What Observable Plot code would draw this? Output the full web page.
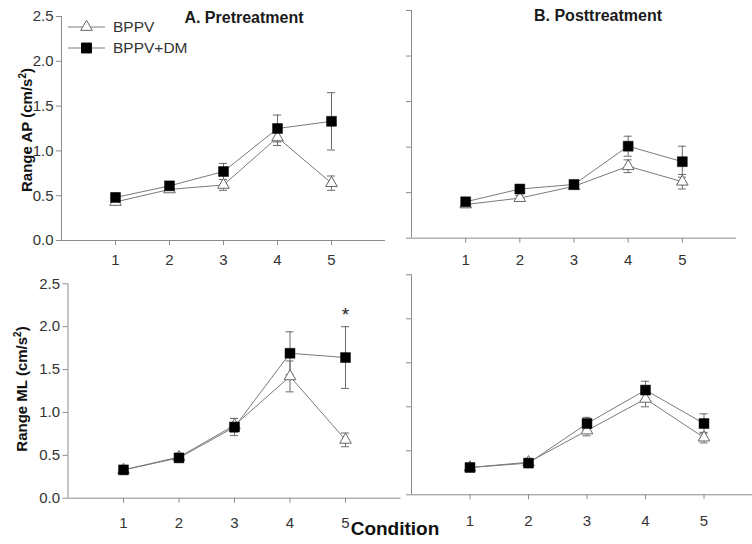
<!DOCTYPE html>
<html><head><meta charset="utf-8">
<script src="https://cdn.jsdelivr.net/npm/d3@7"></script>
<script src="https://cdn.jsdelivr.net/npm/@observablehq/plot@0.6"></script>
<style>
body{margin:0;background:#fff;overflow:hidden}
#wrap{position:relative;width:752px;height:544px;overflow:hidden;font-family:"Liberation Sans",Arial,sans-serif;background:#fff}
.abs{position:absolute;white-space:nowrap}
.title{font-weight:bold;font-size:16px;color:#1a1a1a;transform:translate(-50%,0)}
.ylab{font-weight:bold;font-size:15px;color:#111;transform:translate(-50%,-50%) rotate(-90deg)}
.ylab sup{font-size:10px}
.xlab{font-weight:bold;font-size:19px;color:#111;transform:translate(-50%,-50%)}
.leg{display:flex;align-items:center;font-size:15.5px;color:#333;height:20px}
.leg svg{margin-right:8px}
</style></head>
<body><div id="wrap"></div>
<script>
// ---- data ----
const conditions = [1, 2, 3, 4, 5];
const yTicks = [0, 0.5, 1.0, 1.5, 2.0, 2.5];
const seriesNames = ["BPPV", "BPPV+DM"];
const panelTitles = ["A. Pretreatment", "B. Posttreatment"];
const yLabelsText = ["Range AP (cm/s", "Range ML (cm/s"];
const xLabelText = "Condition";
const sigLabel = "*";

// Range AP, pretreatment
const apPreBPPV    = [0.43, 0.57, 0.62, 1.15, 0.64];
const apPreBPPVErr = [0.03, 0.02, 0.06, 0.09, 0.08];
const apPreDM      = [0.48, 0.61, 0.77, 1.25, 1.33];
const apPreDMErr   = [0.05, 0.03, 0.09, 0.15, 0.32];
// Range AP, posttreatment
const apPostBPPV    = [0.37, 0.44, 0.57, 0.79, 0.62];
const apPostBPPVErr = [0.02, 0.03, 0.02, 0.07, 0.08];
const apPostDM      = [0.40, 0.54, 0.59, 1.01, 0.84];
const apPostDMErr   = [0.03, 0.03, 0.03, 0.11, 0.17];
// Range ML, pretreatment
const mlPreBPPV    = [0.33, 0.48, 0.85, 1.42, 0.68];
const mlPreBPPVErr = [0.03, 0.03, 0.08, 0.18, 0.08];
const mlPreDM      = [0.33, 0.47, 0.83, 1.69, 1.64];
const mlPreDMErr   = [0.02, 0.03, 0.10, 0.25, 0.36];
// Range ML, posttreatment
const mlPostBPPV    = [0.31, 0.37, 0.73, 1.09, 0.65];
const mlPostBPPVErr = [0.02, 0.02, 0.06, 0.09, 0.06];
const mlPostDM      = [0.31, 0.36, 0.81, 1.19, 0.81];
const mlPostDMErr   = [0.02, 0.02, 0.07, 0.10, 0.11];
// significance marker (ML pretreatment, condition 5)
const mlPreSigCondition = [5];

// ---- styling ----
const axisColor = "#8c8c8c";
const textColor = "#333";
const lineColor = "#7a7a7a";
const errColor = "#6a6a6a";
const font = "'Liberation Sans', Arial, sans-serif";

function rows(values, errs, series) {
  return conditions.map((c, i) => ({c, v: values[i], e: errs[i], series}));
}

function errMarks(data) {
  return [
    Plot.ruleX(data, {x: "c", y1: d => d.v - d.e, y2: d => d.v + d.e, stroke: errColor, strokeWidth: 1}),
    Plot.ruleY(data, {x1: "c", x2: "c", y: d => d.v + d.e, insetLeft: -4, insetRight: -4, stroke: errColor, strokeWidth: 1}),
    Plot.ruleY(data, {x1: "c", x2: "c", y: d => d.v - d.e, insetLeft: -4, insetRight: -4, stroke: errColor, strokeWidth: 1})
  ];
}

const wrap = document.getElementById("wrap");

function panel(o) {
  const bppv = rows(o.bppv, o.bppvErr, seriesNames[0]);
  const dm = rows(o.dm, o.dmErr, seriesNames[1]);
  const marks = [
    Plot.ruleY([0], {stroke: axisColor}),
    Plot.ruleX([0], {stroke: axisColor}),
    Plot.axisX({ticks: conditions, tickSize: 5, tickPadding: o.pad, stroke: axisColor, fill: textColor, label: null, tickFormat: d3.format("d"), fontSize: 15}),
    Plot.axisY({ticks: yTicks, tickSize: 5, tickPadding: 3, stroke: axisColor, fill: textColor, label: null,
      tickFormat: o.showY ? d3.format(".1f") : () => "", fontSize: 15}),
    ...errMarks(bppv),
    ...errMarks(dm),
    Plot.line(bppv, {x: "c", y: "v", stroke: lineColor, strokeWidth: 1}),
    Plot.line(dm, {x: "c", y: "v", stroke: lineColor, strokeWidth: 1}),
    Plot.dot(bppv, {x: "c", y: "v", symbol: "triangle", r: 4.3, fill: "white", stroke: "#666", strokeWidth: 1}),
    Plot.dot(dm, {x: "c", y: "v", symbol: "square", r: 5.6, fill: "black", stroke: "black", strokeWidth: 0.5}),
    ...(o.extra ? o.extra(dm) : [])
  ];
  const svg = Plot.plot({
    width: o.width, height: o.height,
    marginLeft: o.ml, marginRight: o.mr, marginTop: o.mt, marginBottom: o.mb,
    x: {type: "linear", domain: [0, 6]},
    y: {type: "linear", domain: [0, 2.5]},
    style: {background: "transparent", fontFamily: font, fontSize: "15px", overflow: "visible"},
    marks
  });
  svg.style.position = "absolute";
  svg.style.left = o.left + "px";
  svg.style.top = o.top + "px";
  svg.style.maxWidth = "none";
  wrap.appendChild(svg);
}

panel({bppv: apPreBPPV, bppvErr: apPreBPPVErr, dm: apPreDM, dmErr: apPreDMErr,
  left: 0, top: 0, width: 390, height: 270, ml: 61, mr: 5, mt: 16, mb: 30, showY: true, pad: 9});
panel({bppv: apPostBPPV, bppvErr: apPostBPPVErr, dm: apPostDM, dmErr: apPostDMErr,
  left: 380, top: 0, width: 372, height: 270, ml: 31, mr: 16, mt: 10, mb: 32.3, showY: false, pad: 11});
panel({bppv: mlPreBPPV, bppvErr: mlPreBPPVErr, dm: mlPreDM, dmErr: mlPreDMErr,
  left: 0, top: 260, width: 410, height: 284, ml: 67.5, mr: 9.5, mt: 23.3, mb: 46.3, showY: true, pad: 14,
  extra: dm => [Plot.text(dm.filter(d => mlPreSigCondition.includes(d.c)),
    {x: "c", y: d => d.v + d.e, text: () => sigLabel, dy: -12, fontSize: 19, fill: "#222"})]});
panel({bppv: mlPostBPPV, bppvErr: mlPostBPPVErr, dm: mlPostDM, dmErr: mlPostDMErr,
  left: 380, top: 260, width: 382, height: 284, ml: 31, mr: 0, mt: 14.3, mb: 49.7, showY: false, pad: 16});

// ---- text labels ----
function addDiv(cls, html, x, y) {
  const d = document.createElement("div");
  d.className = "abs " + cls;
  d.innerHTML = html;
  d.style.left = x + "px";
  d.style.top = y + "px";
  wrap.appendChild(d);
  return d;
}
addDiv("title", panelTitles[0], 244, 9);
addDiv("title", panelTitles[1], 598, 7);
addDiv("ylab", yLabelsText[0] + "<sup>2</sup>)", 26, 130);
addDiv("ylab", yLabelsText[1] + "<sup>2</sup>)", 21, 389);
addDiv("xlab", xLabelText, 395, 529);

// ---- legend ----
function legendRow(name, y, symbolType, fill, stroke, size) {
  const row = addDiv("leg", "", 68, y - 10);
  const s = d3.create("svg").attr("width", 37).attr("height", 20);
  s.append("line").attr("x1", 0).attr("x2", 37).attr("y1", 10).attr("y2", 10).attr("stroke", lineColor);
  s.append("path").attr("transform", "translate(18.5,10)")
    .attr("d", d3.symbol(symbolType, size)()).attr("fill", fill).attr("stroke", stroke);
  row.appendChild(s.node());
  const t = document.createElement("span");
  t.textContent = name;
  row.appendChild(t);
}
legendRow(seriesNames[0], 27, d3.symbolTriangle, "white", "#666", Math.PI * 4.3 * 4.3);
legendRow(seriesNames[1], 48, d3.symbolSquare, "black", "black", Math.PI * 5.6 * 5.6);
</script>
</body></html>
